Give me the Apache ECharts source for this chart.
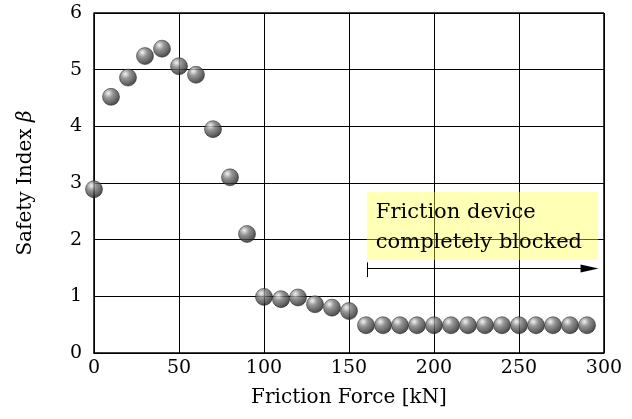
<!DOCTYPE html>
<html>
<head>
  <meta charset="utf-8">
  <title>Safety Index vs Friction Force</title>
  <script src="https://cdn.jsdelivr.net/npm/echarts/dist/echarts.min.js"></script>
  <style>
    html, body { margin: 0; padding: 0; background: #fff; }
    #chart { width: 632px; height: 419px; }
  </style>
</head>
<body>
  <div id="chart"></div>
  <script>
    // friction force [kN] and safety index beta
    var forces = [0, 10, 20, 30, 40, 50, 60, 70, 80, 90, 100, 110, 120, 130, 140, 150,
      160, 170, 180, 190, 200, 210, 220, 230, 240, 250, 260, 270, 280, 290];
    var beta = [2.89, 4.52, 4.86, 5.24, 5.37, 5.06, 4.91, 3.95, 3.10, 2.10, 0.99, 0.95, 0.98, 0.86, 0.80, 0.74,
      0.49, 0.49, 0.49, 0.49, 0.49, 0.49, 0.49, 0.49, 0.49, 0.49, 0.49, 0.49, 0.49, 0.49];
    var noteLines = ['Friction device', 'completely blocked'];

    var points = forces.map(function (f, i) { return [f, beta[i]]; });
    var font = 'DejaVu Serif';

    var myChart = echarts.init(document.getElementById('chart'));

    var sphere = new echarts.graphic.RadialGradient(0.35, 0.3, 0.75, [
      { offset: 0, color: '#f0f0f0' },
      { offset: 0.35, color: '#7c7c7c' },
      { offset: 1, color: '#161616' }
    ]);

    var option = {
      animation: false,
      grid: { left: 94, right: 28, top: 13, bottom: 66 },
      xAxis: {
        type: 'value',
        min: 0, max: 300, interval: 50,
        name: 'Friction Force [kN]',
        nameLocation: 'middle',
        nameGap: 35,
        nameTextStyle: { fontFamily: font, fontSize: 20, color: '#000' },
        axisLine: { show: true, lineStyle: { color: '#000', width: 1.5 } },
        axisTick: { show: false },
        axisLabel: { fontFamily: font, fontSize: 19, color: '#000', margin: 6 },
        splitLine: { show: true, lineStyle: { color: '#000', width: 1 } }
      },
      yAxis: {
        type: 'value',
        min: 0, max: 6, interval: 1,
        name: '{a|Safety Index }{b|β}',
        nameLocation: 'middle',
        nameGap: 58,
        nameTextStyle: {
          rich: {
            a: { fontFamily: font, fontSize: 20, color: '#000' },
            b: { fontFamily: font, fontSize: 20, fontStyle: 'italic', color: '#000' }
          }
        },
        axisLine: { show: true, lineStyle: { color: '#000', width: 1.5 } },
        axisTick: { show: false },
        axisLabel: { fontFamily: font, fontSize: 19, color: '#000', margin: 12 },
        splitLine: { show: true, lineStyle: { color: '#000', width: 1 } }
      },
      series: [
        {
          // top and right frame
          type: 'line',
          data: [],
          markLine: {
            silent: true,
            symbol: 'none',
            lineStyle: { color: '#000', width: 1.5, type: 'solid' },
            label: { show: false },
            data: [
              [{ coord: [0, 6] }, { coord: [300, 6] }],
              [{ coord: [300, 0] }, { coord: [300, 6] }]
            ]
          }
        },
        {
          type: 'scatter',
          data: points,
          symbol: 'circle',
          symbolSize: 17,
          z: 5,
          itemStyle: {
            color: sphere,
            borderColor: '#1a1a1a',
            borderWidth: 0.6
          },
          markArea: {
            silent: true,
            itemStyle: { color: 'rgba(255, 255, 60, 0.38)' },
            label: {
              show: true,
              position: 'insideTopLeft',
              offset: [4, 0],
              fontFamily: font,
              fontSize: 21,
              lineHeight: 30,
              color: '#000',
              formatter: noteLines.join('\n')
            },
            data: [[{ coord: [160.5, 2.84] }, { coord: [296.5, 1.64] }]]
          },
          markLine: {
            silent: true,
            animation: false,
            lineStyle: { color: '#000', width: 1, type: 'solid' },
            label: { show: false },
            data: [
              [{ coord: [160.5, 1.49], symbol: 'none' }, { coord: [291.5, 1.49], symbol: 'triangle', symbolSize: [8, 18], symbolRotate: -90 }],
              [{ coord: [160.5, 1.34], symbol: 'none' }, { coord: [160.5, 1.60], symbol: 'none' }]
            ]
          }
        }
      ]
    };

    myChart.setOption(option);
  </script>
</body>
</html>
